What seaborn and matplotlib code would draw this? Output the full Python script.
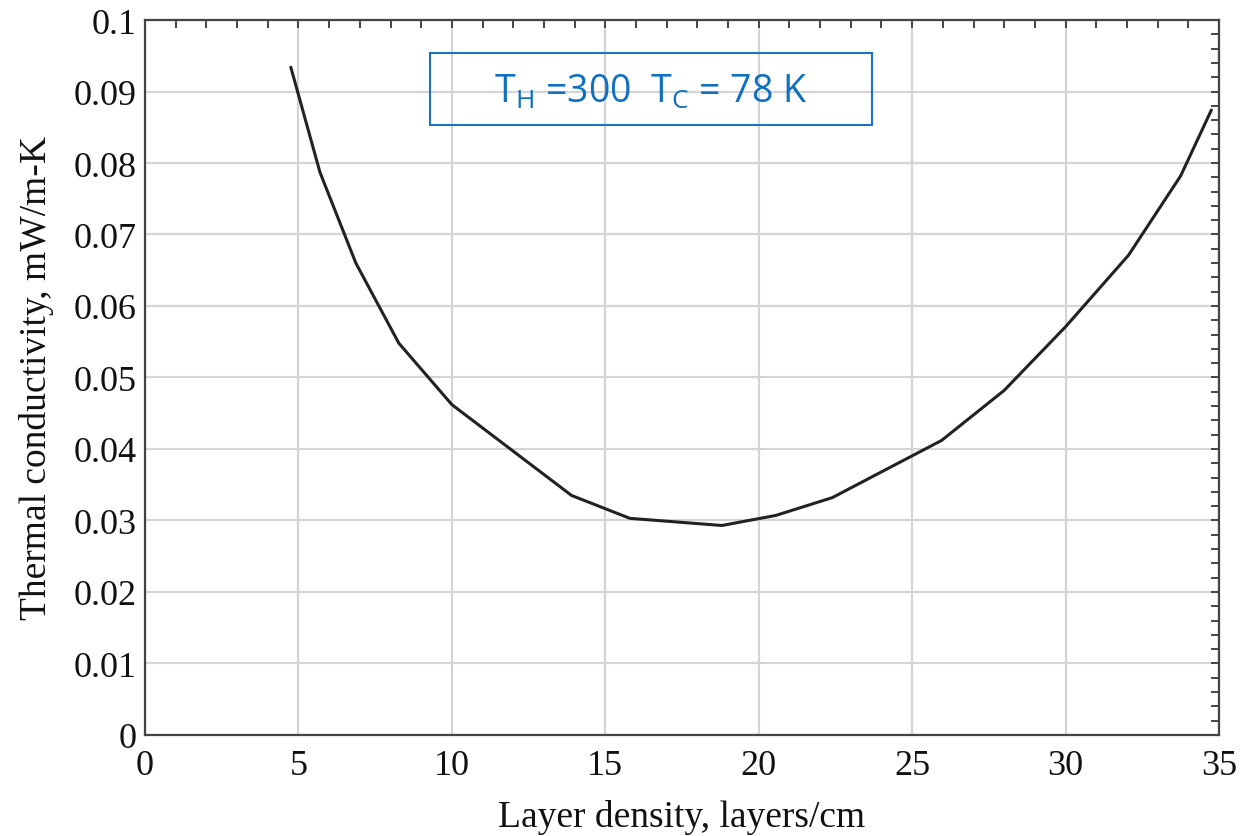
import numpy as np
import pandas as pd
import seaborn as sns
import matplotlib.pyplot as plt
from matplotlib.patches import Rectangle
from matplotlib.ticker import MultipleLocator, FormatStrFormatter

## Data
layer_density = [4.75, 5.7, 6.87, 8.27, 10.0, 13.9, 15.8, 17.0, 18.8,
                 20.55, 22.4, 24.0, 25.96, 28.0, 30.0, 32.05, 33.75, 34.75]
conductivity = [0.0934, 0.0787, 0.0660, 0.0548, 0.0462, 0.0335, 0.0303, 0.0299, 0.0293,
                0.0307, 0.0332, 0.0368, 0.0412, 0.0482, 0.0571, 0.0671, 0.0782, 0.0874]
x_ticks = [0, 5, 10, 15, 20, 25, 30, 35]
y_ticks = [0, 0.01, 0.02, 0.03, 0.04, 0.05, 0.06, 0.07, 0.08, 0.09, 0.1]
note = r'T$_\mathregular{H}$ =300  T$_\mathregular{C}$ = 78 K'

df = pd.DataFrame({'density': layer_density, 'k': conductivity})

sns.set_style('whitegrid')
plt.rcParams['font.family'] = ['Liberation Serif', 'DejaVu Serif']

fig = plt.figure(figsize=(12.43, 8.37), dpi=100)
ax = fig.add_axes([0.1167, 0.1207, 0.8640, 0.8542])

sns.lineplot(data=df, x='density', y='k', ax=ax, color='#222222', linewidth=2.2, sort=False)

ax.set_xlim(0, 35)
ax.set_ylim(0, 0.1)
ax.set_xticks(x_ticks)
ax.set_yticks(y_ticks)
ax.yaxis.set_major_formatter(FormatStrFormatter('%g'))
ax.xaxis.set_minor_locator(MultipleLocator(1))
ax.yaxis.set_minor_locator(MultipleLocator(0.002))

ax.grid(True, which='major', color='#d4d4d4', linewidth=1.6)
ax.grid(False, which='minor')
for s in ax.spines.values():
    s.set_visible(True)
    s.set_color('#444444')
    s.set_linewidth(1.6)

ax.tick_params(which='both', direction='in', top=True, right=True, color='#444444', width=1.4)
ax.tick_params(which='major', length=6, labelsize=26, pad=6, labelcolor='#111111')
ax.tick_params(axis='x', which='major', pad=10)
ax.tick_params(which='minor', length=6)

ax.set_xlabel('Layer density, layers/cm', fontsize=27, color='#111111', labelpad=12)
ax.set_ylabel('Thermal conductivity, mW/m-K', fontsize=27, color='#111111', labelpad=14)

# annotation box
ax.add_patch(Rectangle((0.265, 0.853), 0.4115, 0.1007, transform=ax.transAxes,
                       fill=False, edgecolor='#1a73c4', linewidth=1.5, zorder=5))
ax.text(0.471, 0.9005, note, transform=ax.transAxes, ha='center', va='center',
        fontsize=27, color='#0f6fc0', family=['Open Sans', 'DejaVu Sans'], zorder=6)

fig.savefig('out.png', dpi=100)
